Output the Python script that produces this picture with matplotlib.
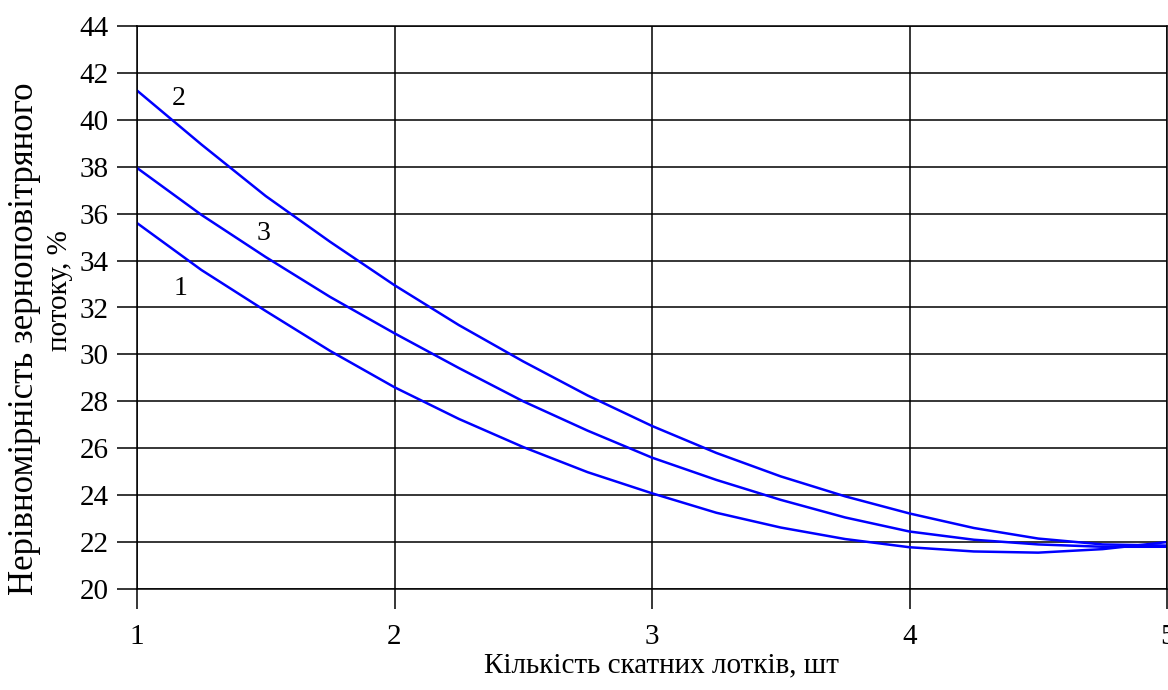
import matplotlib
matplotlib.use('Agg')
import matplotlib.pyplot as plt

# x positions: number of chutes
x = [1.0, 1.25, 1.5, 1.75, 2.0, 2.25, 2.5, 2.75, 3.0, 3.25, 3.5, 3.75, 4.0, 4.25, 4.5, 4.75, 5.0]

# values
curve_1 = [35.6, 33.6, 31.85, 30.15, 28.6, 27.25, 26.05, 24.98, 24.08, 23.25, 22.62, 22.13,
           21.78, 21.6, 21.55, 21.7, 22.0]
curve_2 = [41.25, 38.95, 36.75, 34.8, 32.95, 31.25, 29.7, 28.25, 26.95, 25.8, 24.8, 23.95,
           23.22, 22.6, 22.15, 21.9, 21.85]
curve_3 = [37.95, 35.95, 34.15, 32.45, 30.9, 29.42, 28.0, 26.75, 25.6, 24.65, 23.8, 23.05,
           22.45, 22.1, 21.9, 21.8, 21.8]

x_ticks = [1, 2, 3, 4, 5]
y_ticks = list(range(20, 45, 2))

plt.rcParams['font.family'] = ['Liberation Serif', 'DejaVu Serif']

W, H = 1168, 690
fig = plt.figure(figsize=(W / 100, H / 100), dpi=100)
ax = fig.add_axes([137 / W, 1 - 589 / H, (1167 - 137) / W, (589 - 26) / H])

for y in (curve_1, curve_2, curve_3):
    ax.plot(x, y, color='#0000ff', linewidth=1.8, solid_joinstyle='round')

ax.set_xlim(1, 5)
ax.set_ylim(20, 44)
ax.set_xticks(x_ticks)
ax.set_yticks(y_ticks)
ax.grid(True, color='black', linewidth=1.1)
ax.set_axisbelow(True)
for s in ax.spines.values():
    s.set_color('black')
    s.set_linewidth(1.1)
ax.tick_params(axis='both', direction='out', length=14.5, width=1.1, color='black',
               labelsize=21, labelcolor='black')
ax.tick_params(axis='y', pad=6)
ax.tick_params(axis='x', pad=11)

# curve numbers
ax.text(1.16, 40.9, '2', fontsize=20, ha='center', va='center')
ax.text(1.49, 35.15, '3', fontsize=20, ha='center', va='center')
ax.text(1.17, 32.8, '1', fontsize=20, ha='center', va='center')

fig.text(661 / W, 1 - 665 / H, 'Кількість скатних лотків, шт', fontsize=21,
         ha='center', va='center')
fig.text(25 / W, 1 - 339 / H, 'Нерівномірність зерноповітряного', fontsize=25,
         rotation=90, ha='center', va='center')
fig.text(60 / W, 1 - 291 / H, 'потоку, %', fontsize=21,
         rotation=90, ha='center', va='center')

fig.savefig('out.png', dpi=100)
